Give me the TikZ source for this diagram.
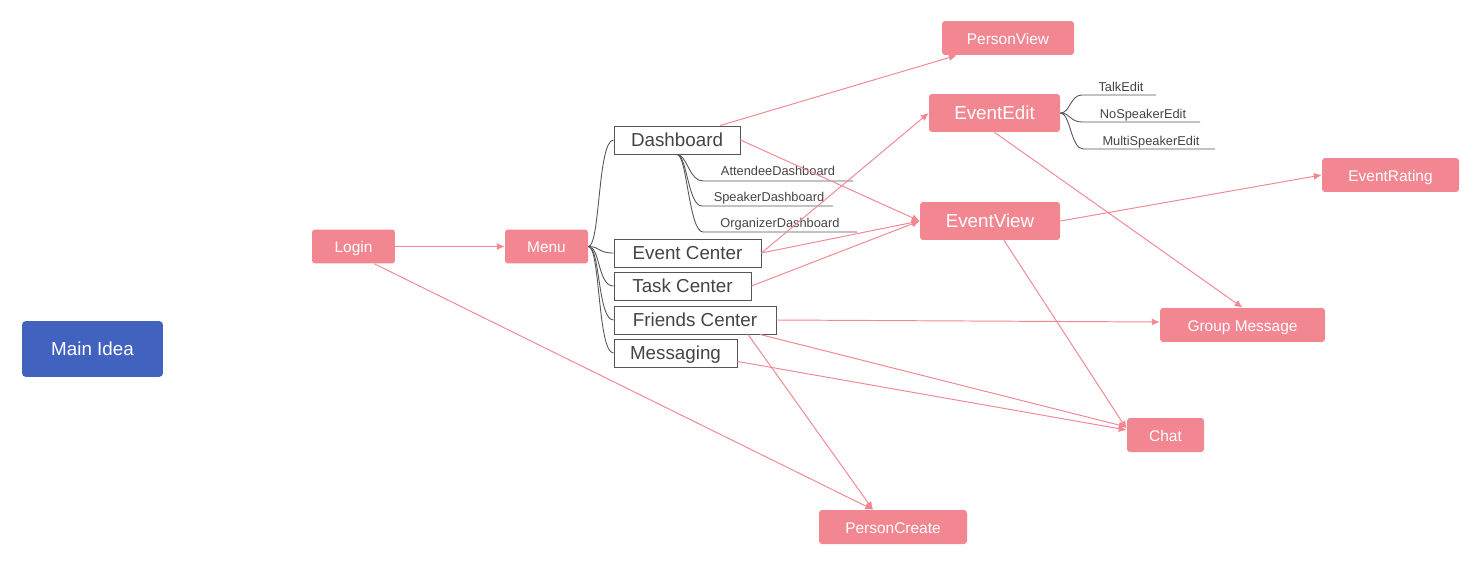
\documentclass[tikz,border=0pt]{standalone}
\usepackage{fontspec}
\setmainfont{Liberation Sans}
\usetikzlibrary{calc,arrows.meta}
\definecolor{colorpk}{HTML}{F28791}
\definecolor{colormain}{HTML}{4262BF}
\definecolor{colorbr}{HTML}{555555}
\definecolor{colortx}{HTML}{444444}
\tikzset{
  pk/.style={fill=colorpk, text=white, rounded corners=0.6mm, inner sep=0pt, text height=0.72em, text depth=0pt, minimum height=0.68cm, font=\fontsize{8.8}{10}\selectfont},
  pkbig/.style={pk, minimum height=0.76cm, font=\fontsize{10.7}{12}\selectfont},
  topic/.style={draw=colorbr, fill=white, text=colortx, inner sep=0pt, text height=0.72em, text depth=0pt, minimum height=0.56cm, line width=0.5pt, font=\fontsize{10.7}{12}\selectfont},
  sub/.style={text=colortx, inner sep=0pt, text height=0.72em, text depth=0pt, font=\fontsize{7.3}{9}\selectfont},
  edgepk/.style={colorpk, -{Latex[length=4.5pt,width=4pt]}, line width=0.55pt},
  edgebr/.style={colorbr, line width=0.5pt}
}
\begin{document}
\begin{tikzpicture}[x=0.02cm, y=-0.02cm]
\useasboundingbox (0,0) rectangle (1479,564);
\node[pk, fill=colormain, minimum width=2.82cm, minimum height=1.12cm, rounded corners=0.8mm, font=\fontsize{10.7}{12}\selectfont](main) at (92.5,349) {Main Idea};
\node[pk, minimum width=1.66cm](login) at (353.5,246.5) {Login};
\node[pk, minimum width=1.66cm](menu) at (546.5,246.5) {Menu};
\node[topic, minimum width=2.52cm](dash) at (677,140) {Dashboard};
\node[topic, minimum width=2.94cm](evcenter) at (687.5,253) {Event Center};
\node[topic, minimum width=2.74cm](taskcenter) at (682.5,286) {Task Center};
\node[topic, minimum width=3.24cm](friendcenter) at (695,320) {Friends Center};
\node[topic, minimum width=2.46cm](msging) at (675.5,353) {Messaging};
\node[sub](attdash) at (778,169) {AttendeeDashboard};
\node[sub](spkdash) at (769,195) {SpeakerDashboard};
\node[sub](orgdash) at (780,221) {OrganizerDashboard};
\coordinate (attL) at (703,181); \coordinate (attR) at (853,181);
\coordinate (spkL) at (702,206); \coordinate (spkR) at (833,206);
\coordinate (orgL) at (703,232); \coordinate (orgR) at (857,232);
\node[pk, minimum width=2.64cm](pview) at (1008,38) {PersonView};
\node[pkbig, minimum width=2.62cm](evedit) at (994.5,113) {EventEdit};
\node[pkbig, minimum width=2.8cm](evview) at (990,221) {EventView};
\node[sub](talkedit) at (1121,85) {TalkEdit};
\node[sub](nospkedit) at (1143,112) {NoSpeakerEdit};
\node[sub](multiedit) at (1151,139) {MultiSpeakerEdit};
\coordinate (talkL) at (1082,95); \coordinate (talkR) at (1156,95);
\coordinate (nospkL) at (1082,122); \coordinate (nospkR) at (1200,122);
\coordinate (multiL) at (1083,149); \coordinate (multiR) at (1215,149);
\node[pk, minimum width=2.74cm](evrating) at (1390.5,175) {EventRating};
\node[pk, minimum width=3.3cm](grpmsg) at (1242.5,325) {Group Message};
\node[pk, minimum width=1.54cm](chat) at (1165.5,435) {Chat};
\node[pk, minimum width=2.96cm](pcreate) at (893,527) {PersonCreate};
% branches
\foreach \t in {dash,evcenter,taskcenter,friendcenter,msging}
  \draw[edgebr] (menu.east) .. controls +(12,0) and +(-16,0) .. (\t.west);
\draw[edgebr] (dash.south) .. controls +(10,0) and +(-14,0) .. (attL) -- (attR);
\draw[edgebr] (dash.south) .. controls +(10,0) and +(-14,0) .. (spkL) -- (spkR);
\draw[edgebr] (dash.south) .. controls +(10,0) and +(-14,0) .. (orgL) -- (orgR);
\draw[edgebr] (evedit.east) .. controls +(10,0) and +(-12,0) .. (talkL) -- (talkR);
\draw[edgebr] (evedit.east) .. controls +(10,0) and +(-12,0) .. (nospkL) -- (nospkR);
\draw[edgebr] (evedit.east) .. controls +(10,0) and +(-12,0) .. (multiL) -- (multiR);
% links
\draw[edgepk] (login.east) -- (menu.west);
\draw[edgepk] ($(login.south)+(21,0)$) -- ($(pcreate.north)+(-20,0)$);
\draw[edgepk] ($(dash.north)+(43,0)$) -- ($(pview.south west)+(15,0)$);
\draw[edgepk] (dash.east) -- (evview.west);
\draw[edgepk] (evcenter.east) -- (evedit.west);
\draw[edgepk] (evcenter.east) -- (evview.west);
\draw[edgepk] (taskcenter.east) -- (evview.west);
\draw[edgepk] (friendcenter.east) -- ($(grpmsg.west)+(0,-3)$);
\draw[edgepk] ($(friendcenter.south)+(65,0)$) -- ($(chat.west)+(0,-8)$);
\draw[edgepk] ($(friendcenter.south)+(53,0)$) -- ($(pcreate.north)+(-20,0)$);
\draw[edgepk] ($(msging.south east)+(0,-6)$) -- ($(chat.west)+(0,-5)$);
\draw[edgepk] (evedit.south) -- (grpmsg.north);
\draw[edgepk] (evview.east) -- (evrating.west);
\draw[edgepk] ($(evview.south)+(14,0)$) -- ($(chat.west)+(0,-6)$);
\end{tikzpicture}
\end{document}
